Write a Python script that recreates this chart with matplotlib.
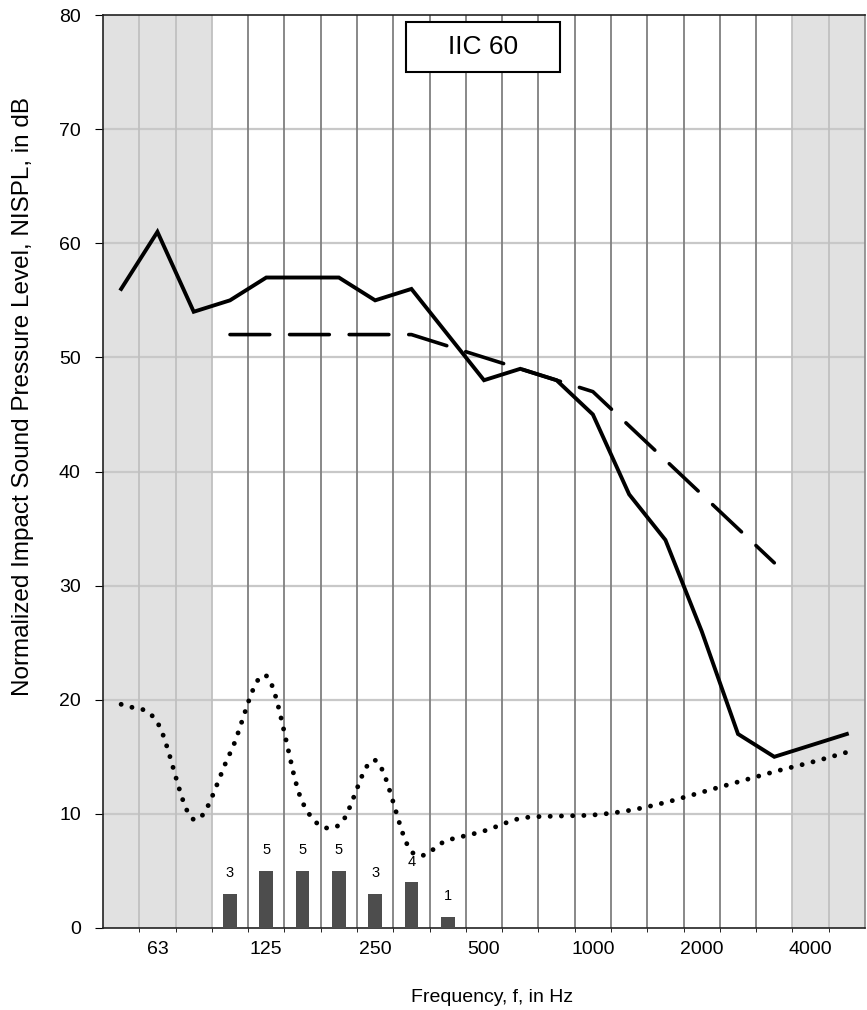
import numpy as np
import matplotlib.pyplot as plt
from matplotlib.patches import Rectangle

plt.rcParams['font.family'] = ['Liberation Sans', 'DejaVu Sans']

# one-third octave bands, 50 Hz .. 5000 Hz
bands = [50, 63, 80, 100, 125, 160, 200, 250, 315, 400, 500, 630, 800,
         1000, 1250, 1600, 2000, 2500, 3150, 4000, 5000]
tick_labels = {63: '63', 125: '125', 250: '250', 500: '500',
               1000: '1000', 2000: '2000', 4000: '4000'}

# measured NISPL
nispl = [56, 61, 54, 55, 57, 57, 57, 55, 56, 52, 48, 49, 48, 45, 38, 34,
         26, 17, 15, 16, 17]

# IIC 60 reference contour (100 - 3150 Hz)
contour_bands = [100, 125, 160, 200, 250, 315, 400, 500, 630, 800, 1000,
                 1250, 1600, 2000, 2500, 3150]
contour = [52, 52, 52, 52, 52, 52, 51, 50, 49, 48, 47, 44, 41, 38, 35, 32]

# background / floor curve (dotted)
floor_curve = [19.6, 18.0, 9.5, 15.3, 22.1, 11.0, 9.0, 14.7, 6.7, 7.7, 8.5,
               9.6, 9.8, 9.9, 10.3, 11.0, 11.9, 12.8, 13.7, 14.5, 15.4]

# deficiencies
def_bands = [100, 125, 160, 200, 250, 315, 400]
deficiency = [3, 5, 5, 5, 3, 4, 1]

idx = {b: i for i, b in enumerate(bands)}


def smooth(x, y, n=20):
    # catmull-rom style smoothing, like a spreadsheet "smoothed line"
    x = np.asarray(x, float)
    y = np.asarray(y, float)
    px = np.concatenate([[2 * x[0] - x[1]], x, [2 * x[-1] - x[-2]]])
    py = np.concatenate([[2 * y[0] - y[1]], y, [2 * y[-1] - y[-2]]])
    xs, ys = [], []
    t = np.linspace(0, 1, n, endpoint=False)
    for k in range(1, len(px) - 2):
        p0, p1, p2, p3 = py[k - 1], py[k], py[k + 1], py[k + 2]
        q0, q1, q2, q3 = px[k - 1], px[k], px[k + 1], px[k + 2]
        ys.append(0.5 * ((2 * p1) + (-p0 + p2) * t + (2 * p0 - 5 * p1 + 4 * p2 - p3) * t**2
                         + (-p0 + 3 * p1 - 3 * p2 + p3) * t**3))
        xs.append(0.5 * ((2 * q1) + (-q0 + q2) * t + (2 * q0 - 5 * q1 + 4 * q2 - q3) * t**2
                         + (-q0 + 3 * q1 - 3 * q2 + q3) * t**3))
    xs.append([x[-1]])
    ys.append([y[-1]])
    return np.concatenate(xs), np.concatenate(ys)


fig = plt.figure(figsize=(8.67, 10.10), dpi=100)
ax = fig.add_axes([0.1188, 0.0812, 0.8789, 0.9039])

n = len(bands)
ax.set_xlim(-0.5, n - 0.5)
ax.set_ylim(0, 80)

# shaded regions outside 100-3150 Hz
ax.axvspan(-0.5, idx[100] - 0.5, color='#e1e1e1', zorder=0, lw=0)
ax.axvspan(idx[4000] - 0.5, n - 0.5, color='#e1e1e1', zorder=0, lw=0)

# grid
for yv in range(10, 80, 10):
    ax.axhline(yv, color='#c8c8c8', lw=1.6, zorder=1)
for i in range(1, n):
    e = i - 0.5
    if idx[100] - 0.5 < e < idx[4000] - 0.5:
        col = '#7f7f7f'
    else:
        col = '#c0c0c0'
    ax.axvline(e, color=col, lw=1.3, zorder=1)

# deficiency bars
xb = [idx[b] for b in def_bands]
ax.bar(xb, deficiency, width=0.38, color='#4d4d4d', zorder=3)
for xv, v in zip(xb, deficiency):
    ax.annotate(str(v), (xv, v), xytext=(0, 15), textcoords='offset points',
                ha='center', va='center', fontsize=10.5)

# dotted curve
sx, sy = smooth(range(n), floor_curve)
ax.plot(sx, sy, color='black', lw=3.5, linestyle=(0, (0.01, 2.3)),
        dash_capstyle='round', zorder=4)

# contour
ax.plot([idx[b] for b in contour_bands], contour, color='black', lw=2.6,
        linestyle=(0, (11, 5.5)), dash_capstyle='round', zorder=5)

# measured
ax.plot(range(n), nispl, color='black', lw=2.8, solid_joinstyle='miter', zorder=6)

# rating box
ax.add_patch(Rectangle((7.85, 75.0), 4.24, 4.4, fc='white', ec='black',
                       lw=1.5, zorder=7))
ax.text(9.97, 77.2, 'IIC 60', fontsize=19, ha='center', va='center', zorder=8)

# axes
ax.set_yticks(range(0, 81, 10))
ax.set_xticks([idx[b] for b in tick_labels])
ax.set_xticklabels(list(tick_labels.values()))
ax.set_xticks(np.arange(0.5, n - 1, 1), minor=True)
ax.tick_params(axis='x', which='major', length=0, labelsize=14, pad=9.5)
ax.tick_params(axis='x', which='minor', length=3, direction='out')
ax.tick_params(axis='y', length=6, labelsize=14, pad=10)
for s in ax.spines.values():
    s.set_color('#222222')
    s.set_linewidth(1.2)
ax.spines['right'].set_color('#888888')

fig.text(492 / 867, 1 - 998 / 1010, 'Frequency, f, in Hz', fontsize=14,
         ha='center', va='center')
fig.text(23 / 867, 1 - 397 / 1010,
         'Normalized Impact Sound Pressure Level, NISPL, in dB', fontsize=17.5,
         rotation=90, ha='center', va='center')

fig.savefig('out.png', dpi=100)
